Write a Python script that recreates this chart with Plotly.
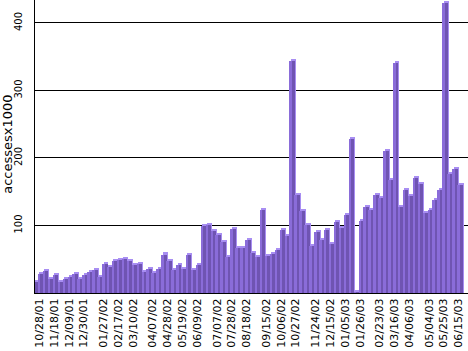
import plotly.graph_objects as go

values = [16, 28, 33, 21, 26, 17, 21, 23, 28, 21,
          27, 31, 34, 24, 43, 38, 47, 49, 51, 48,
          41, 43, 31, 36, 29, 36, 57, 47, 34, 41,
          36, 56, 34, 42, 99, 101, 92, 86, 76, 54,
          95, 66, 67, 79, 59, 53, 123, 55, 58, 63,
          94, 85, 344, 145, 122, 101, 70, 90, 79, 94,
          72, 105, 96, 116, 228, 1, 106, 128, 123, 145,
          140, 210, 168, 341, 127, 153, 143, 171, 161, 118,
          123, 138, 153, 430, 176, 184, 160]

tick_labels = ["10/28/01", "11/18/01", "12/09/01", "12/30/01", "01/27/02", "02/17/02",
               "03/10/02", "04/07/02", "04/28/02", "05/19/02", "06/09/02", "07/07/02",
               "07/28/02", "08/18/02", "09/15/02", "10/06/02", "10/27/02", "11/24/02",
               "12/15/02", "01/05/03", "01/26/03", "02/23/03", "03/16/03", "04/06/03",
               "05/04/03", "05/25/03", "06/15/03"]
tick_weeks = [0, 3, 6, 9, 13, 16, 19, 23, 26, 29, 32, 36, 39, 42, 46, 49, 52, 56,
              59, 62, 65, 69, 72, 75, 79, 82, 85]

x = list(range(len(values)))
top_vals = [v + 3 for v in values]

fig = go.Figure()
# top / back face (light)
fig.add_trace(go.Bar(x=x, y=top_vals, width=[1.0] * len(x), offset=-0.3,
                     marker=dict(color="#A88EF2", line=dict(width=0)), hoverinfo="skip"))
# dark face
fig.add_trace(go.Bar(x=x, y=values, width=[0.6] * len(x), offset=-0.1,
                     marker=dict(color="#6F54B2", line=dict(width=0))))
# light front strip
fig.add_trace(go.Bar(x=x, y=values, width=[0.4] * len(x), offset=-0.5,
                     marker=dict(color="#8A6CD9", line=dict(width=0)), hoverinfo="skip"))

fig.update_layout(
    width=468, height=351,
    margin=dict(l=35, r=0, t=0, b=57.5),
    paper_bgcolor="white", plot_bgcolor="white",
    barmode="overlay", bargap=0, showlegend=False,
    font=dict(family="DejaVu Sans", color="black"),
    xaxis=dict(range=[-0.2, 87.6], tickmode="array",
               tickvals=[w + 0.7 for w in tick_weeks], ticktext=tick_labels,
               tickangle=-90, tickfont=dict(size=11, family="DejaVu Sans"),
               showgrid=False, zeroline=False, showline=True, linecolor="black",
               linewidth=1, ticks="", fixedrange=True),
    yaxis=dict(range=[0, 434], tickvals=[100, 200, 300, 400],
               ticktext=["100", "200", "300", "400"],
               tickangle=-90, tickfont=dict(size=10, family="DejaVu Sans"),
               showgrid=True, gridcolor="black", gridwidth=1,
               zeroline=False, showline=True, linecolor="black", linewidth=1,
               ticks="", ticklabelstandoff=8),
    annotations=[dict(text="accessesx1000", xref="paper", yref="paper",
                      x=-27 / 433, y=(293.5 - 145) / 293.5, textangle=-90,
                      showarrow=False, xanchor="center", yanchor="middle",
                      font=dict(size=13, family="DejaVu Sans", color="black"))],
)

fig.write_html("out.html")
